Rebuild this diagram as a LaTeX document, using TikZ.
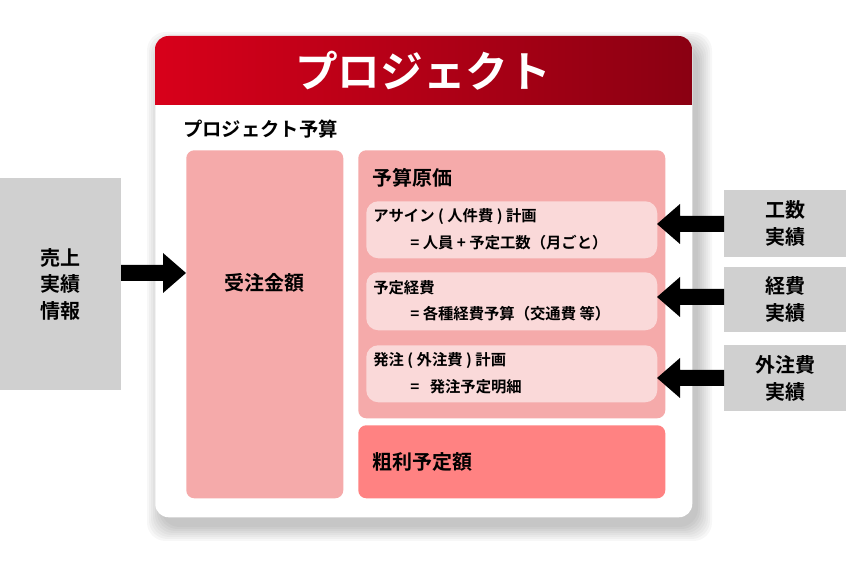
\documentclass[tikz,border=0pt]{standalone}
\usepackage{fontspec}
\setmainfont{Noto Sans CJK JP}[BoldFont={Noto Sans CJK JP Bold}]
\usetikzlibrary{shadows,arrows.meta}
\definecolor{hdrA}{HTML}{D8001A}
\definecolor{hdrB}{HTML}{8A0012}
\definecolor{pinkA}{HTML}{F5AAAA}
\definecolor{pinkB}{HTML}{FAD9D9}
\definecolor{pinkC}{HTML}{FF8282}
\definecolor{grayb}{HTML}{D0D0D0}
\tikzset{
 px/.style={x=0.75pt,y=-0.75pt},
 bx/.style={draw=none,rounded corners=6pt,inner sep=0pt,anchor=north west},
 gbox/.style={fill=grayb,draw=none,inner sep=0pt,anchor=north west,align=center,font=\bfseries\fontsize{15}{20}\selectfont},
 bigarrow/.style={draw=none,fill=black},
 lbl/.style={font=\bfseries\fontsize{11.5}{13}\selectfont,anchor=west,inner sep=0pt}
}
\begin{document}
\begin{tikzpicture}[px]
\useasboundingbox (0,0) rectangle (846,580);
% soft shadow
\foreach \i in {0,...,7}{
 \fill[black,opacity=0.03,rounded corners=14pt] (155+6-\i*2,36+10-\i*2) rectangle (692+6+\i*2,517+10+\i*2);
}
\node[bx,fill=white,minimum width=537*0.75pt,minimum height=481*0.75pt,rounded corners=10pt] (outer) at (155,36) {};
\begin{scope}
\clip[rounded corners=10pt] (155,36) rectangle (692,140);
\shade[left color=hdrA,right color=hdrB] (155,36) rectangle (692,105);
\end{scope}
\node[text=white,font=\bfseries\fontsize{32}{36}\selectfont] (hdr) at (423,71) {プロジェクト};
\node[font=\bfseries\fontsize{14.5}{16}\selectfont,anchor=west,inner sep=0pt] (yosan) at (183,129) {プロジェクト予算};
% left box
\node[bx,fill=pinkA,minimum width=157*0.75pt,minimum height=348*0.75pt] (juchu) at (186,150) {};
\node[font=\bfseries\fontsize{15}{16}\selectfont] (juchut) at (264.5,283) {受注金額};
% genka
\node[bx,fill=pinkA,minimum width=307*0.75pt,minimum height=268*0.75pt] (genka) at (358,150) {};
\node[font=\bfseries\fontsize{15}{16}\selectfont,anchor=west,inner sep=0pt] (genkat) at (372,178) {予算原価};
\node[bx,fill=pinkB,minimum width=291*0.75pt,minimum height=57*0.75pt,rounded corners=9pt] (s1) at (366,201) {};
\node[bx,fill=pinkB,minimum width=291*0.75pt,minimum height=58*0.75pt,rounded corners=9pt] (s2) at (366,272) {};
\node[bx,fill=pinkB,minimum width=291*0.75pt,minimum height=57*0.75pt,rounded corners=9pt] (s3) at (366,345) {};
\node[lbl] at (373,217) {アサイン ( 人件費 ) 計画};
\node[lbl] at (410,243) {=\ 人員\ +\ 予定工数（月ごと）};
\node[lbl] at (373,288) {予定経費};
\node[lbl] at (410,314) {= 各種経費予算（交通費 等）};
\node[lbl] at (373,361) {発注 ( 外注費 ) 計画};
\node[lbl] at (410,387) {=\ \ \ 発注予定明細};
\node[bx,fill=pinkC,minimum width=307*0.75pt,minimum height=73*0.75pt] (arari) at (358,425) {};
\node[font=\bfseries\fontsize{15}{16}\selectfont,anchor=west,inner sep=0pt] at (372,462) {粗利予定額};
% gray boxes
\node[gbox,minimum width=121*0.75pt,minimum height=212*0.75pt] (uri) at (0,178) {売上\\実績\\情報};
\node[gbox,minimum width=122*0.75pt,minimum height=67*0.75pt] (g1) at (724,190) {工数\\実績};
\node[gbox,minimum width=122*0.75pt,minimum height=65*0.75pt] (g2) at (724,267) {経費\\実績};
\node[gbox,minimum width=122*0.75pt,minimum height=66*0.75pt] (g3) at (724,345) {外注費\\実績};
% arrows
\fill[bigarrow] (121,265) -- (163,265) -- (163,253) -- (186,273) -- (163,293) -- (163,281) -- (121,281) -- cycle;
\foreach \y in {224,297,378}{
 \fill[bigarrow] (724,\y-8) -- (680,\y-8) -- (680,\y-20) -- (657,\y) -- (680,\y+20) -- (680,\y+8) -- (724,\y+8) -- cycle;
}
\end{tikzpicture}
\end{document}
